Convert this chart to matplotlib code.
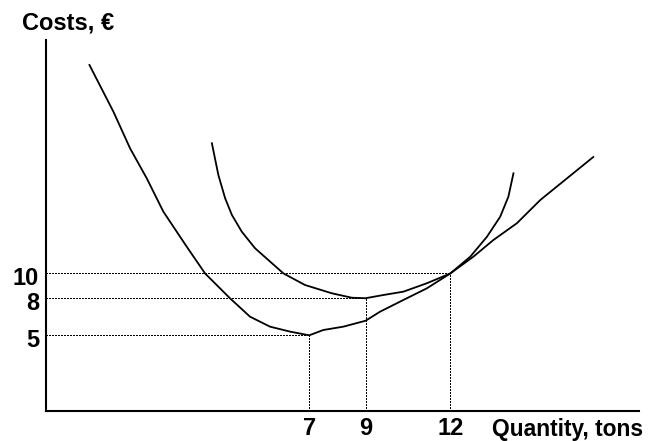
import matplotlib.pyplot as plt
from matplotlib.transforms import ScaledTranslation

# ---- data ----
# lower curve: falls to a minimum at (7, 5), rises through (12, 10) and goes on almost straight
q_lower = [-0.79, 0.06, 0.65, 1.24, 1.83, 2.54, 2.78, 3.31, 4.19, 4.90, 5.61, 6.32, 7.0,
           7.50, 8.21, 9.0, 9.51, 10.34, 11.17, 12.0, 12.82, 13.53, 14.36, 15.19, 17.07]
c_lower = [26.86, 23.08, 20.12, 17.70, 15.00, 12.57, 11.76, 10.0, 8.0, 6.51, 5.70, 5.30, 5.0,
           5.43, 5.70, 6.18, 6.91, 7.86, 8.80, 10.0, 11.36, 12.71, 14.06, 15.94, 19.42]

# U-shaped curve: minimum at (9, 8), touches the lower curve at (12, 10)
q_upper = [3.55, 3.78, 4.02, 4.26, 4.61, 5.08, 5.55, 6.09, 6.85, 7.80, 8.51, 9.0,
           9.63, 10.34, 11.17, 12.0, 12.71, 13.30, 13.77, 14.06, 14.24]
c_upper = [20.53, 17.96, 16.08, 14.73, 13.38, 12.04, 11.09, 10.0, 9.07, 8.40, 8.04, 8.0,
           8.26, 8.53, 9.21, 10.0, 11.36, 12.97, 14.59, 16.21, 18.10]

# guide points (quantity, cost)
guide_q = [7, 9, 12]
guide_c = [5, 8, 10]

x_ticks = [7, 9, 12]
y_ticks = [5, 8, 10]

x_min, x_max = -2.33, 18.69
y_min, y_max = -1.12, 28.88

plt.rcParams['font.family'] = ['Liberation Sans', 'DejaVu Sans']
plt.rcParams['font.weight'] = 'bold'

fig = plt.figure(figsize=(6.59, 4.41), dpi=100)
ax = fig.add_axes([46 / 659, 30 / 441, 593 / 659, 371 / 441])

ax.plot(q_lower, c_lower, color='black', lw=1.3, solid_joinstyle='round')
ax.plot(q_upper, c_upper, color='black', lw=1.3, solid_joinstyle='round')

# dotted guides, crisp 1px dots
for q, c in zip(guide_q, guide_c):
    ax.plot([x_min, q], [c, c], color='black', lw=0.75, linestyle=(0, (1, 1.4)),
            antialiased=False)
    ax.plot([q, q], [y_min, c], color='black', lw=0.75, linestyle=(0, (1, 1.4)),
            antialiased=False)

ax.set_xlim(x_min, x_max)
ax.set_ylim(y_min, y_max)

for s in ['top', 'right']:
    ax.spines[s].set_visible(False)
for s in ['left', 'bottom']:
    ax.spines[s].set_linewidth(1.5)
    ax.spines[s].set_color('black')

ax.set_xticks(x_ticks)
ax.set_yticks(y_ticks)
ax.tick_params(length=0, labelsize=17, pad=4)
ax.tick_params(axis='y', pad=5)
# labels on the y axis sit a little below their guide lines
shift = ScaledTranslation(0, -3 / 100, fig.dpi_scale_trans)
for lbl in ax.get_yticklabels():
    lbl.set_transform(lbl.get_transform() + shift)

fig.text(22 / 659, 1 - 23 / 441, 'Costs, €', fontsize=17, fontweight='bold',
         ha='left', va='center')
fig.text(492 / 659, 1 - 418 / 441, 'Quantity, tons', fontsize=16.4, fontweight='bold',
         ha='left', va='top')

fig.savefig('out.png', dpi=100)
